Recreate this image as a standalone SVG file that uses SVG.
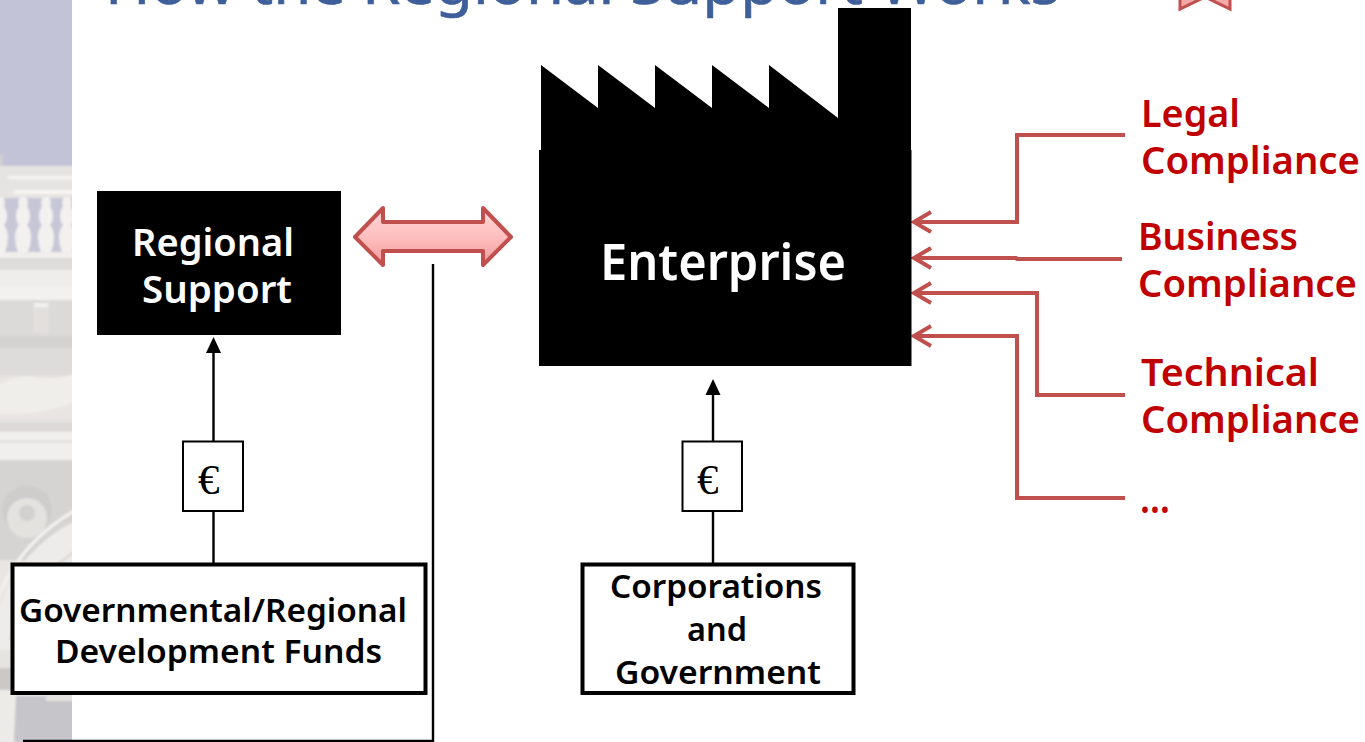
<svg xmlns="http://www.w3.org/2000/svg" width="1365" height="742" viewBox="0 0 1365 742">
<style>
.t{font-family:"Noto Sans","Open Sans","DejaVu Sans",sans-serif;font-weight:600}
.w{fill:#fff}.k{fill:#000}.r{fill:#c00000}
.box{fill:#fff;stroke:#000;stroke-width:4}
.eu{fill:#fff;stroke:#000;stroke-width:2}
.eut{font-family:"Liberation Serif",serif;font-size:43px;fill:#000}
.bl{fill:none;stroke:#000;stroke-width:2.400}
.rl{fill:none;stroke:#c0504d;stroke-width:4}
</style>
<defs>
<linearGradient id="pink" x1="0" y1="0" x2="0" y2="1"><stop offset="0" stop-color="#ffd6d6"/><stop offset=".5" stop-color="#ffbfbf"/><stop offset="1" stop-color="#f29a9a"/></linearGradient>
<clipPath id="strip"><rect x="0" y="0" width="72" height="742"/></clipPath>
<filter id="soft" x="-5%" y="-5%" width="110%" height="110%"><feGaussianBlur stdDeviation="1"/></filter>
<path id="bal" d="M-3 197q-3 5-1 10q-3 3-3 9q0 6 3 9q-4 5-4 12q0 8 3 15h10q3-7 3-15q0-7-4-12q3-3 3-9q0-6-3-9q2-5-1-10z" fill="#f3f1ef"/>
</defs>
<rect width="1365" height="742" fill="#fff"/>
<g id="background" clip-path="url(#strip)"><g filter="url(#soft)">
<rect x="-5" y="-5" width="82" height="752" fill="#e8e5e2"/>
<rect x="-5" y="-5" width="82" height="171" fill="#c3c3d7"/>
<rect x="-5" y="155" width="8" height="45" fill="#d0cfd2"/>
<rect x="-5" y="166" width="82" height="32" fill="#e6e4e2"/>
<rect x="8" y="176" width="70" height="3" fill="#f6f5f3"/>
<rect x="14" y="190" width="64" height="4" fill="#f6f5f3"/>
<rect x="-5" y="198" width="82" height="55" fill="#c6c6d6"/>
<use href="#bal" x="0"/><use href="#bal" x="23"/><use href="#bal" x="46"/><use href="#bal" x="67"/>
<rect x="-5" y="252" width="82" height="6" fill="#f1efed"/>
<rect x="-5" y="258" width="82" height="12" fill="#dfdddb"/>
<rect x="-5" y="270" width="82" height="16" fill="#efedeb"/>
<rect x="-5" y="286" width="82" height="14" fill="#f3f1ef"/>
<rect x="-5" y="300" width="82" height="36" fill="#dcdad8"/>
<rect x="33" y="303" width="16" height="30" fill="#e2e0dd"/>
<rect x="34" y="303" width="14" height="4" fill="#f2f1ef"/>
<rect x="-5" y="336" width="82" height="12" fill="#d5d3d1"/>
<rect x="-5" y="348" width="82" height="28" fill="#dedcda"/>
<path d="M-5 388q20-16 45-10q20 2 37-6v28q-30 16-82 14z" fill="#f0eeeb"/>
<rect x="-5" y="418" width="82" height="5" fill="#e4e2e0"/>
<rect x="-5" y="423" width="82" height="9" fill="#dbd9d7"/>
<rect x="-5" y="432" width="82" height="28" fill="#f1efed"/>
<rect x="-5" y="440" width="82" height="3" fill="#e2e0de"/>
<rect x="-5" y="460" width="82" height="100" fill="#d6d4d2"/>
<path d="M-5 620q20-70 82-100v90q-35 30-55 80H-5z" fill="#eeecea"/>
<path d="M-5 605q22-62 82-96" fill="none" stroke="#f4f3f1" stroke-width="3"/>
<path d="M10 640q18-58 67-90" fill="none" stroke="#dedcd9" stroke-width="3"/>
<circle cx="27" cy="510" r="25" fill="#cfcdcc"/><circle cx="27" cy="518" r="20" fill="#e4e2df"/><circle cx="27" cy="513" r="8" fill="#d3d1cf"/>
<rect x="-5" y="650" width="82" height="18" fill="#e6e4e1"/>
<rect x="-5" y="668" width="82" height="22" fill="#cbc9c8"/>
<path d="M-5 690H77V742H-5z" fill="#ecebe8"/>
<path d="M16 696h61v46H14z" fill="#c6c5c9"/>
<rect x="46" y="694" width="31" height="7" fill="#e4e2df"/>
</g></g>
<text id="title" x="105" y="4" font-family="Noto Sans,Open Sans,sans-serif" font-size="58" fill="#3f5f9a" stroke="#3f5f9a" stroke-width=".6" textLength="955" lengthAdjust="spacingAndGlyphs">How the Regional Support Works</text>
<polygon id="ribbon" points="1180,-12 1180,9 1205,-3 1230,9 1230,-12" fill="#f4a9a9" stroke="#c0504d" stroke-width="3"/>
<g id="connectors">
<path class="bl" d="M433 264V741H23"/>
<path class="bl" d="M213.500 352V441M213.500 511V564"/>
<polygon points="213.500,337 221,353 206,353" fill="#000"/>
<path class="bl" d="M713 392V441M713 511V564"/>
<polygon points="713,379 720.500,395 705.500,395" fill="#000"/>
<path class="rl" d="M1125 135H1017V222H914"/>
<path class="rl" d="M1122 259H1017L1016 258H914"/>
<path class="rl" d="M1125 395H1037V293H914"/>
<path class="rl" d="M1125 498H1017V336H914"/>
<path class="rl" d="M931 212L914 222L931 232M931 248L914 258L931 268M931 283L914 293L931 303M931 326L914 336L931 346"/>
</g>
<g id="regional-support">
<rect x="97" y="191" width="244" height="144" fill="#000"/>
<text class="t w" x="132" y="256" font-size="38" textLength="162" lengthAdjust="spacingAndGlyphs">Regional</text>
<text class="t w" x="142" y="303" font-size="38" textLength="150" lengthAdjust="spacingAndGlyphs">Support</text>
</g>
<g id="double-arrow">
<polygon points="355,237 383,208 383,222 483,222 483,208 511,237 483,265 483,251 383,251 383,265" fill="url(#pink)" stroke="#c0504d" stroke-width="4" stroke-linejoin="round"/>
</g>
<g id="enterprise">
<polygon points="541,150 541,65 598,108 598,65 655,108 655,65 712,108 712,65 769,108 769,65 838,118 838,8 911,8 911,150" fill="#000"/>
<rect x="539" y="150" width="372.500" height="216" fill="#000"/>
<text class="t w" x="600" y="280" font-size="50" textLength="246" lengthAdjust="spacingAndGlyphs">Enterprise</text>
</g>
<g id="euro-left"><rect class="eu" x="183" y="441.500" width="60" height="69.500"/><text class="eut" x="198" y="493.500">€</text></g>
<g id="euro-right"><rect class="eu" x="682.500" y="441.500" width="59.500" height="69.500"/><text class="eut" x="697" y="493.500">€</text></g>
<g id="funds">
<rect class="box" x="12.500" y="564.500" width="413" height="128.500"/>
<text class="t k" x="19" y="622" font-size="33" textLength="388" lengthAdjust="spacingAndGlyphs">Governmental/Regional</text>
<text class="t k" x="55" y="663" font-size="33" textLength="327" lengthAdjust="spacingAndGlyphs">Development Funds</text>
</g>
<g id="corporations">
<rect class="box" x="582.500" y="564.500" width="271" height="128.500"/>
<text class="t k" x="610" y="598" font-size="33" textLength="212" lengthAdjust="spacingAndGlyphs">Corporations</text>
<text class="t k" x="687" y="641" font-size="33" textLength="60" lengthAdjust="spacingAndGlyphs">and</text>
<text class="t k" x="615" y="684" font-size="33" textLength="206" lengthAdjust="spacingAndGlyphs">Government</text>
</g>
<g id="legal"><text class="t r" x="1141" y="127" font-size="38" textLength="99" lengthAdjust="spacingAndGlyphs">Legal</text><text class="t r" x="1141" y="174" font-size="38" textLength="219" lengthAdjust="spacingAndGlyphs">Compliance</text></g>
<g id="business"><text class="t r" x="1138" y="250" font-size="38" textLength="160" lengthAdjust="spacingAndGlyphs">Business</text><text class="t r" x="1138" y="297" font-size="38" textLength="219" lengthAdjust="spacingAndGlyphs">Compliance</text></g>
<g id="technical"><text class="t r" x="1141" y="386" font-size="38" textLength="178" lengthAdjust="spacingAndGlyphs">Technical</text><text class="t r" x="1141" y="433" font-size="38" textLength="219" lengthAdjust="spacingAndGlyphs">Compliance</text></g>
<g id="more"><text class="t r" x="1140" y="513" font-size="42" textLength="30" lengthAdjust="spacingAndGlyphs">…</text></g>
</svg>
